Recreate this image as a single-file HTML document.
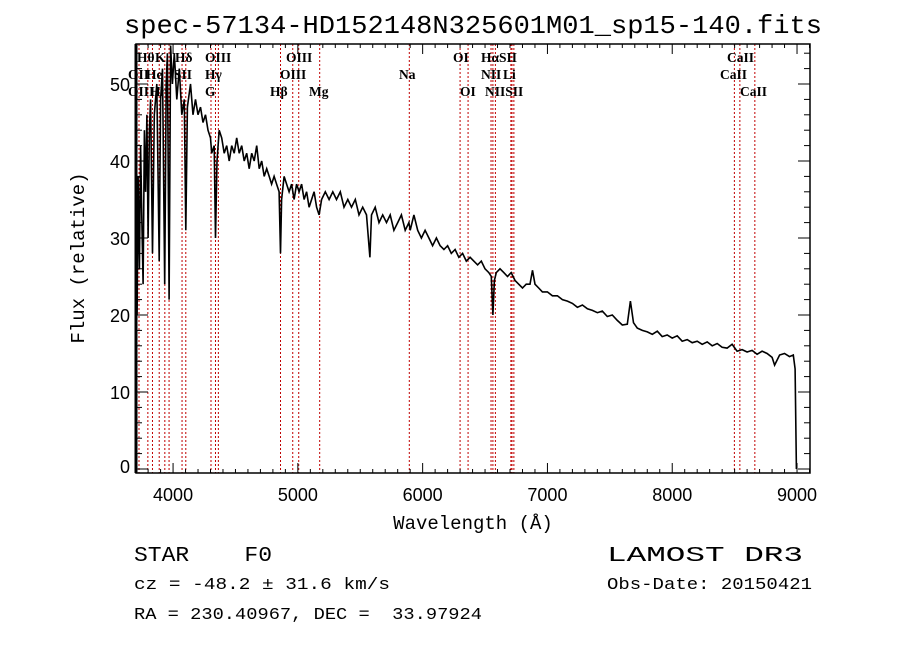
<!DOCTYPE html>
<html><head><meta charset="utf-8">
<style>
html,body{margin:0;padding:0;background:#fff;}
svg{display:block;}
text{white-space:pre;}
</style></head>
<body>
<svg id="chart" width="900" height="649" viewBox="0 0 900 649" xmlns="http://www.w3.org/2000/svg">
<rect width="900" height="649" fill="#fff"/>
<text x="473" y="33" font-family="Liberation Mono, monospace" font-size="26" text-anchor="middle" textLength="698" lengthAdjust="spacingAndGlyphs">spec-57134-HD152148N325601M01_sp15-140.fits</text>
<g id="lines"></g>
<g id="spec"></g>
<g id="axes"></g>
<g id="labels"></g>
<text transform="translate(84,258) rotate(-90)" font-family="Liberation Mono, monospace" font-size="19" text-anchor="middle">Flux (relative)</text>
<text x="473" y="529" font-family="Liberation Mono, monospace" font-size="19" text-anchor="middle">Wavelength (Å)</text>
<text x="134" y="561" font-family="Liberation Mono, monospace" font-size="21" textLength="138" lengthAdjust="spacingAndGlyphs">STAR    F0</text>
<text x="607" y="561" font-family="Liberation Mono, monospace" font-size="21" textLength="196" lengthAdjust="spacingAndGlyphs">LAMOST DR3</text>
<text x="134" y="589" font-family="Liberation Mono, monospace" font-size="17" textLength="256" lengthAdjust="spacingAndGlyphs">cz = -48.2 ± 31.6 km/s</text>
<text x="607" y="589" font-family="Liberation Mono, monospace" font-size="17" textLength="205" lengthAdjust="spacingAndGlyphs">Obs-Date: 20150421</text>
<text x="134" y="619" font-family="Liberation Mono, monospace" font-size="17" textLength="348" lengthAdjust="spacingAndGlyphs">RA = 230.40967, DEC =  33.97924</text>
</svg>
<script>
const wavelengths = [3700,3705,3712,3720,3730,3740,3750,3760,3770,3780,3790,3800,3810,3820,3835,3850,3870,3889,3900,3915,3933,3945,3955,3968,3980,3995,4010,4030,4050,4070,4090,4102,4115,4140,4160,4180,4200,4220,4240,4260,4280,4300,4310,4330,4340,4352,4370,4390,4410,4430,4450,4470,4490,4510,4530,4550,4570,4590,4610,4630,4650,4670,4690,4710,4730,4750,4770,4790,4810,4830,4850,4861,4870,4890,4910,4930,4950,4970,4990,5010,5030,5050,5070,5090,5110,5130,5150,5170,5190,5220,5250,5280,5310,5340,5370,5400,5430,5460,5490,5520,5550,5577,5590,5620,5650,5680,5710,5740,5770,5800,5830,5860,5890,5900,5930,5960,5990,6020,6050,6080,6110,6140,6170,6200,6230,6260,6290,6320,6350,6380,6410,6440,6470,6500,6530,6550,6563,6575,6590,6620,6650,6680,6710,6740,6770,6800,6830,6860,6880,6900,6930,6960,7000,7040,7080,7120,7160,7200,7240,7280,7320,7360,7400,7440,7480,7520,7560,7600,7640,7665,7690,7720,7760,7800,7840,7880,7920,7960,8000,8040,8080,8120,8160,8200,8240,8280,8320,8360,8400,8440,8480,8520,8560,8600,8640,8680,8720,8760,8800,8820,8860,8900,8940,8970,8985,8995];
const fluxes = [0,30,20,38,26,42,32,24,44,36,46,30,44,48,28,46,50,27,48,52,24,50,54,22,55,50,54,48,52,46,48,31,47,50,46,48,46,47,45,46,44,43,41,42,30,40,44,43,41,42,40,42,41,43,41,42,40,41,39,41,40,42,39,40,38,39,38,37,38,37,36,28,35,38,37,36,37,35,37,36,37,35,36,34,35,36,34,33,35,36,35,36,35,36,34,35,34,35,33,34,33,27.5,33,34,32,33,32,33,31,32,33,31,32,31,33,31,30,31,30,29,30,29,28.5,29,28,28.5,27.5,28,27,27.5,27,26.5,27,26,25.5,25,20,24.5,25.5,26,25.5,25,25.5,24.5,24,23.5,24,24,25.8,24,23.5,23,23,22.5,22.5,22,21.8,21.5,21,21.3,20.8,20.6,20.3,20.5,19.8,20,19.3,18.7,18.8,21.8,19,18.3,18,17.8,17.5,17.9,17.2,17.4,17,17.3,16.6,16.8,16.4,16.6,16.2,16.5,16,16.3,15.8,15.7,16.2,15.3,15.5,15.2,15.4,14.9,15.3,15,14.5,13.5,14.8,15,14.6,14.8,13,0];
const lineWaves = [3727,3798,3835,3889,3934,3968,4072,4102,4304,4340,4363,4861,4959,5007,5175,5893,6300,6364,6548,6563,6583,6707,6716,6731,8498,8542,8662];
const lineLabels = [["Hθ",137,1],["K",155,1],["Hδ",175,1],["OIII",205,1],["OIII",286,1],["OI",453,1],["HαSII",481,1],["CaII",727,1],
["OII",128,2],["He",146,2],["SII",174,2],["Hγ",205,2],["OIII",280,2],["Na",399,2],["NII",481,2],["Li",503,2],["CaII",720,2],
["OIII",128,3],["Hη",150,3],["G",205,3],["Hβ",270,3],["Mg",309,3],["OI",460,3],["NIISII",485,3],["CaII",740,3]];
const xTicks = [4000,5000,6000,7000,8000,9000];
const yTicks = [0,10,20,30,40,50];

const NS="http://www.w3.org/2000/svg";
const L=136,R=810,T=44,B=473;
const xMin=3703,xMax=9104;
const xs=w=>L+(w-xMin)/(xMax-xMin)*(R-L);
const ys=f=>469-f*7.7;
function mk(tag,attrs,parent){const e=document.createElementNS(NS,tag);for(const k in attrs)e.setAttribute(k,attrs[k]);parent.appendChild(e);return e;}

const gl=document.getElementById('lines');
lineWaves.forEach(w=>{
  const ln=mk('line',{x1:xs(w),x2:xs(w),y1:T,y2:B,stroke:'#c00000','stroke-width':1,'stroke-dasharray':'2,2'},gl);
  
  
});

const gs=document.getElementById('spec');
let d='';
wavelengths.forEach((w,i)=>{d+=(i?'L':'M')+xs(w).toFixed(1)+','+ys(fluxes[i]).toFixed(1);});
const p=mk('path',{d:d,fill:'none',stroke:'#000','stroke-width':1.6,'stroke-linejoin':'miter'},gs);



const ga=document.getElementById('axes');
const frame=mk('rect',{x:L,y:T,width:R-L,height:B-T,fill:'none',stroke:'#000','stroke-width':1.5},ga);


mk('line',{x1:L,x2:L,y1:T,y2:B,stroke:'#000','stroke-width':3},ga);
for(let w=3800;w<=9100;w+=100){
  const major=w%1000===0;const h=major?10:4;const x=xs(w);
  mk('line',{x1:x,x2:x,y1:B,y2:B-h,stroke:'#000','stroke-width':1},ga);
  mk('line',{x1:x,x2:x,y1:T,y2:T+h,stroke:'#000','stroke-width':1},ga);
}
for(let v=0;v<=54;v+=2){
  const major=v%10===0;const h=major?12:6;const y=ys(v);
  mk('line',{x1:L,x2:L+h,y1:y,y2:y,stroke:'#000','stroke-width':1},ga);
  mk('line',{x1:R,x2:R-h,y1:y,y2:y,stroke:'#000','stroke-width':1},ga);
}
xTicks.forEach(w=>{
  const t=mk('text',{x:xs(w),y:501,'font-family':'Liberation Sans, sans-serif','font-size':18,'text-anchor':'middle'},ga);
  t.textContent=w;
  
  
});
yTicks.forEach(v=>{
  const y=v===0?473:ys(v)+7;
  const t=mk('text',{x:130,y:y,'font-family':'Liberation Sans, sans-serif','font-size':18,'text-anchor':'end'},ga);
  t.textContent=v;
  
  
});

const glb=document.getElementById('labels');
const rowY={1:62,2:79,3:96};
lineLabels.forEach(([s,x,r])=>{
  const t=mk('text',{x:x,y:rowY[r],'font-family':'Liberation Serif, serif','font-size':13.5,'font-weight':'bold'},glb);
  t.textContent=s;
  
  
});
</script>
</body></html>
